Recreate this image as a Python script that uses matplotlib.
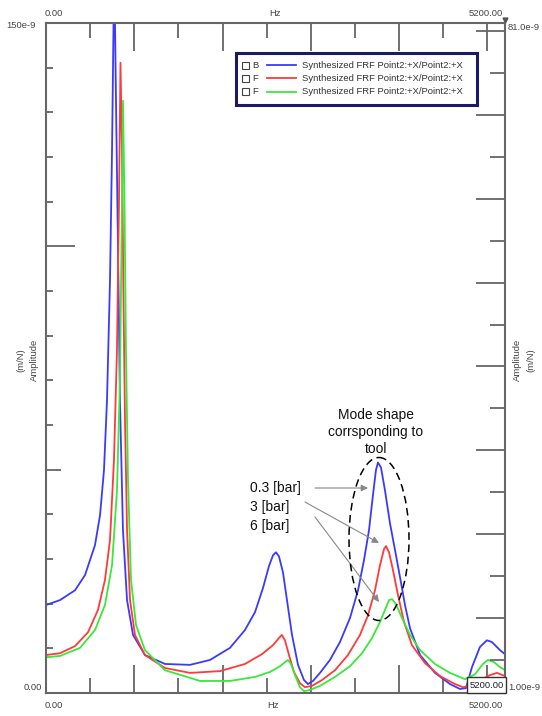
import matplotlib
matplotlib.use("Agg")
import numpy as np
import matplotlib.pyplot as plt
from matplotlib import transforms
from matplotlib.patches import Rectangle, Ellipse
from matplotlib.lines import Line2D

plt.rcParams['font.family'] = ['Liberation Sans', 'DejaVu Sans']

# FRF amplitude, frequency in Hz, amplitude in 1e-9 m/N
freq_b = [0, 159, 329, 442, 555, 612, 657, 691, 725, 748, 765, 772, 793, 816, 838, 872,
          918, 986, 1121, 1348, 1631, 1858, 2084, 2254, 2368, 2458, 2526, 2571, 2605, 2639,
          2685, 2730, 2787, 2855, 2923, 2968, 3025, 3104, 3217, 3330, 3444, 3535, 3602, 3659,
          3704, 3738, 3761, 3795, 3840, 3897, 3954, 4011, 4067, 4124, 4238, 4407, 4577, 4690,
          4758, 4826, 4916, 4995, 5052, 5143, 5200]
amp_b = [19.7, 20.8, 23.0, 26.4, 33.1, 39.8, 49.9, 65.5, 92.3, 121.4, 149.8, 165.0, 132.5, 99.0,
         65.5, 36.4, 20.8, 13.0, 8.5, 6.5, 6.3, 7.4, 10.1, 14.1, 18.1, 23.5, 28.4, 30.8, 31.5,
         30.6, 27.0, 20.8, 13.0, 6.3, 2.9, 2.0, 2.7, 4.5, 7.4, 11.4, 16.8, 23.0, 29.7, 36.4,
         44.3, 49.9, 51.6, 50.5, 45.4, 38.0, 32.0, 25.9, 19.7, 14.5, 8.5, 4.5, 2.0, 0.9, 1.1,
         5.8, 10.3, 11.8, 11.4, 9.6, 8.7]

freq_r = [0, 159, 329, 476, 589, 668, 725, 770, 804, 827, 844, 861, 878, 895, 918, 952, 1008,
          1121, 1348, 1631, 1971, 2254, 2447, 2571, 2639, 2673, 2707, 2753, 2809, 2877, 2934,
          3013, 3127, 3274, 3421, 3557, 3648, 3727, 3784, 3829, 3852, 3886, 3931, 3988, 4056,
          4146, 4293, 4463, 4633, 4724, 4803, 4916, 5030, 5109, 5200]
amp_r = [8.5, 8.9, 10.5, 13.6, 18.6, 25.3, 34.2, 52.1, 76.7, 110.2, 141.1, 121.4, 87.9, 61.0,
         36.4, 20.8, 13.0, 8.5, 5.6, 4.5, 4.9, 6.5, 8.7, 10.7, 12.3, 13.0, 11.8, 8.5, 4.7, 2.2,
         1.3, 1.6, 2.9, 5.1, 8.5, 13.0, 17.4, 23.0, 28.6, 32.2, 32.9, 31.5, 27.5, 21.9, 15.9,
         10.7, 6.7, 3.8, 2.0, 1.3, 1.6, 2.9, 4.0, 4.5, 3.8]

freq_g = [0, 159, 385, 555, 668, 748, 804, 838, 861, 872, 889, 906, 929, 963, 1020, 1121, 1348,
          1745, 2084, 2368, 2537, 2651, 2707, 2741, 2775, 2821, 2877, 2923, 2991, 3104, 3274,
          3444, 3580, 3693, 3784, 3840, 3886, 3920, 3965, 4033, 4124, 4238, 4407, 4577, 4747,
          4860, 4950, 5007, 5075, 5143, 5200]
amp_g = [8.0, 8.3, 10.1, 14.1, 19.7, 28.6, 45.4, 70.0, 110.2, 132.6, 110.2, 76.7, 47.6, 25.3,
         15.2, 9.6, 5.1, 2.7, 2.7, 3.6, 4.7, 6.0, 6.9, 7.4, 6.5, 4.0, 1.3, 0.4, 0.7, 1.6, 3.6,
         6.0, 8.9, 12.3, 15.9, 18.6, 20.8, 21.0, 19.9, 16.8, 13.0, 9.6, 6.5, 4.5, 3.1, 4.2, 6.5,
         7.4, 6.9, 5.8, 5.1]

series_letters = ["B", "F", "F"]
series_label = "Synthesized FRF Point2:+X/Point2:+X"
series_colors = ["#3a3aff", "#ff3a3a", "#3ae83a"]
pressure_labels = ["0.3 [bar]", "3 [bar]", "6 [bar]"]

W, H = 542, 716
fig = plt.figure(figsize=(W / 100, H / 100), dpi=100)
# pixel coordinates measured from the top-left corner of the picture
px = transforms.Affine2D().scale(1, -1).translate(0, H)

L, R, T, B = 46, 505, 23, 693
ax = fig.add_axes([L / W, 1 - B / H, (R - L) / W, (B - T) / H])

for f, a, c in zip([freq_b, freq_r, freq_g], [amp_b, amp_r, amp_g], series_colors):
    ax.plot(f, a, color=c, lw=1.3)

ax.set_xlim(0, 5200)
ax.set_ylim(0, 150)

gray = "#666666"
for s in ax.spines.values():
    s.set_color(gray)
    s.set_linewidth(1.5)

ax.set_xticks(np.arange(0, 5001, 1000))
ax.set_xticks(np.arange(500, 5001, 1000), minor=True)
ax.set_yticks([50, 100])
ax.set_yticks(np.arange(10, 150, 10), minor=True)
ax.tick_params(axis='x', which='both', direction='in', top=True, bottom=True,
               labelbottom=False, color=gray, width=1.3)
ax.tick_params(axis='x', which='major', length=20)
ax.tick_params(axis='x', which='minor', length=11)
ax.tick_params(axis='y', which='both', direction='in', left=True, right=False,
               labelleft=False, color=gray, width=1.3)
ax.tick_params(axis='y', which='major', length=11)
ax.tick_params(axis='y', which='minor', length=5)
for t, v in zip(ax.yaxis.get_major_ticks(), [50, 100]):
    if v == 100:
        t.tick1line.set_markersize(21)

ax2 = ax.twinx()
ax2.set_ylim(1, 81)
ax2.set_yticks(np.arange(10, 81, 10))
ax2.set_yticks(np.arange(5, 81, 10), minor=True)
ax2.tick_params(axis='y', which='both', direction='in', right=True, labelright=False,
                color=gray, width=1.3)
ax2.tick_params(axis='y', which='major', length=21)
ax2.tick_params(axis='y', which='minor', length=11)
for s in ax2.spines.values():
    s.set_visible(False)

tc = "#444444"
fs = 6.8


def label(x, y, s, ha="center", va="center", size=fs, color=tc, **kw):
    fig.text(x, y, s, ha=ha, va=va, fontsize=size, color=color, transform=px, **kw)


label(45, 13, "0.00", ha="left")
label(275, 13, "Hz")
label(503, 13, "5200.00", ha="right")
label(36, 25, "150e-9", ha="right")
label(508, 28, "81.0e-9", ha="left")
label(42, 688, "0.00", ha="right")
label(508, 688, "1.00e-9", ha="left")
label(45, 705, "0.00", ha="left")
label(273, 705, "Hz")
label(503, 705, "5200.00", ha="right")
label(21, 360, "(m/N)", rotation=90)
label(34, 360, "Amplitude", rotation=90)
label(517, 360, "Amplitude", rotation=90)
label(531, 360, "(m/N)", rotation=90)

# small cursor marker under the top right value
fig.add_artist(Line2D([505], [19.5], transform=px, marker="v", markersize=3.5,
                      color="#555555", ls="none"))

# boxed cursor value bottom right
fig.add_artist(Rectangle((467, 677), 39, 16, transform=px, facecolor="white",
                         edgecolor="#333333", lw=1.0))
label(486.5, 685, "5200.00", size=6.8, color="#222222")

# legend
fig.add_artist(Rectangle((236, 53), 241, 52, transform=px, facecolor="white",
                         edgecolor="#1a1a66", lw=2.2))
for i, (letter, c) in enumerate(zip(series_letters, series_colors)):
    y = 65 + i * 13.3
    fig.add_artist(Rectangle((242, y - 3.5), 7, 7, transform=px, facecolor="white",
                             edgecolor="#444444", lw=0.8))
    label(252, y, letter, ha="left", color="#333333")
    fig.add_artist(Line2D([267, 296], [y, y], transform=px, color=c, lw=1.3))
    label(302, y, series_label, ha="left", color="#333333")

# annotation
label(376, 432, "Mode shape\ncorrsponding to\ntool", size=9.9, color="#111111",
      linespacing=1.28)
fig.add_artist(Ellipse((379, 539), 60, 163, transform=px, fill=False, edgecolor="black",
                       lw=1.1, ls=(0, (5, 3))))
for i, s in enumerate(pressure_labels):
    label(250, 488 + i * 19, s, ha="left", size=10, color="#111111")
arrows = [((315, 488), (368, 488)), ((305, 502), (379, 543)), ((315, 517), (379, 602))]
for (x0, y0), (x1, y1) in arrows:
    ax.annotate("", xy=(x1, y1), xycoords=px, xytext=(x0, y0), textcoords=px,
                arrowprops=dict(arrowstyle="-|>", color="#888888", lw=0.8,
                                mutation_scale=10, shrinkA=0, shrinkB=0),
                annotation_clip=False)

fig.savefig("out.png", dpi=100)
